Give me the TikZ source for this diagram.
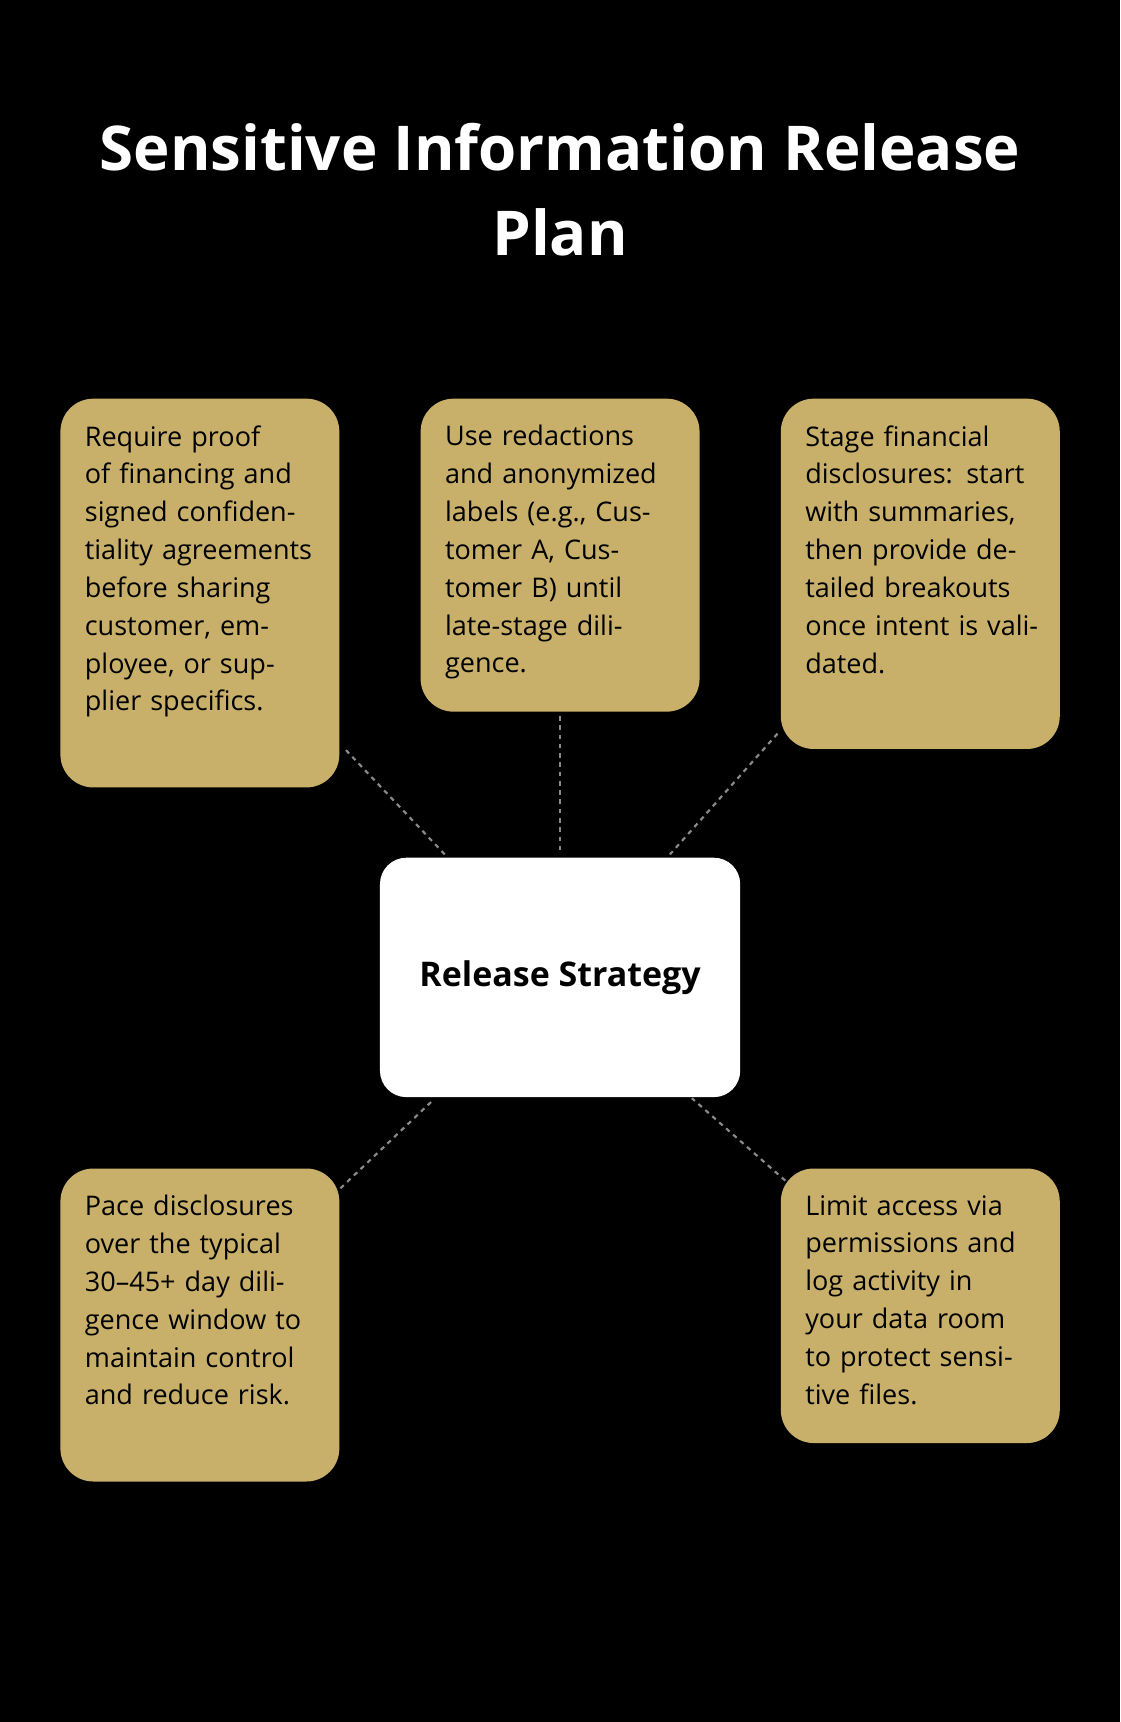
\documentclass[tikz,border=0pt]{standalone}
\usepackage{fontspec}
\setmainfont{Open Sans}
\definecolor{gold}{HTML}{C8B06A}
\definecolor{link}{HTML}{8A8A8A}
\tikzset{
  tip/.style={fill=gold, rounded corners=0.75cm, minimum width=6.35cm, anchor=north west},
  tiptext/.style={anchor=north west, text width=5.3cm, align=left, inner sep=0pt,
    font=\fontsize{17.5}{24.5}\selectfont},
  link/.style={draw=link, line width=1.4pt, dash pattern=on 3pt off 3pt}
}
\begin{document}
\begin{tikzpicture}[x=0.025cm,y=-0.025cm]
  \useasboundingbox[fill=black] (0,0) rectangle (1020,1568);

  % title
  \node[white, align=center, font=\bfseries\fontsize{40}{55}\selectfont] (title) at (510,173)
    {Sensitive Information Release\\Plan};

  % five gold boxes
  \fill[gold, rounded corners=0.75cm] (55,363) rectangle (309,717);
  \fill[gold, rounded corners=0.75cm] (383,363) rectangle (637,648);
  \fill[gold, rounded corners=0.75cm] (711,363) rectangle (965,682);
  \fill[gold, rounded corners=0.75cm] (55,1064) rectangle (309,1349);
  \fill[gold, rounded corners=0.75cm] (711,1064) rectangle (965,1314);

  \node[tiptext] (reqproof) at (77,387) {Require proof of financing and signed confidentiality agreements before sharing customer, employee, or supplier specifics.};
  \node[tiptext] (redact) at (405,387) {Use redactions and anonymized labels (e.g., Customer A, Customer B) until late-stage diligence.};
  \node[tiptext] (stage) at (733,387) {Stage financial disclosures: start with summaries, then provide detailed breakouts once intent is validated.};
  \node[tiptext] (pace) at (77,1088) {Pace disclosures over the typical 30–45+ day diligence window to maintain control and reduce risk.};
  \node[tiptext] (limit) at (733,1088) {Limit access via permissions and log activity in your data room to protect sensitive files.};

  % centre
  \fill[white, rounded corners=0.6cm] (346,781) rectangle (674,999);
  \node[font=\bfseries\fontsize{22}{26}\selectfont] (strategy) at (510,890) {Release Strategy};

  % connector ends
  \coordinate (reqend) at (315,683);
  \coordinate (redend) at (510,652);
  \coordinate (stgend) at (708,668);
  \coordinate (paceend) at (310,1082);
  \coordinate (limend) at (715,1075);
  \coordinate (s1) at (405,778);
  \coordinate (s2) at (510,775);
  \coordinate (s3) at (610,778);
  \coordinate (s4) at (393,1003);
  \coordinate (s5) at (630,1000);

  \draw[link] (reqend) -- (s1);
  \draw[link] (redend) -- (s2);
  \draw[link] (stgend) -- (s3);
  \draw[link] (paceend) -- (s4);
  \draw[link] (limend) -- (s5);
\end{tikzpicture}
\end{document}
